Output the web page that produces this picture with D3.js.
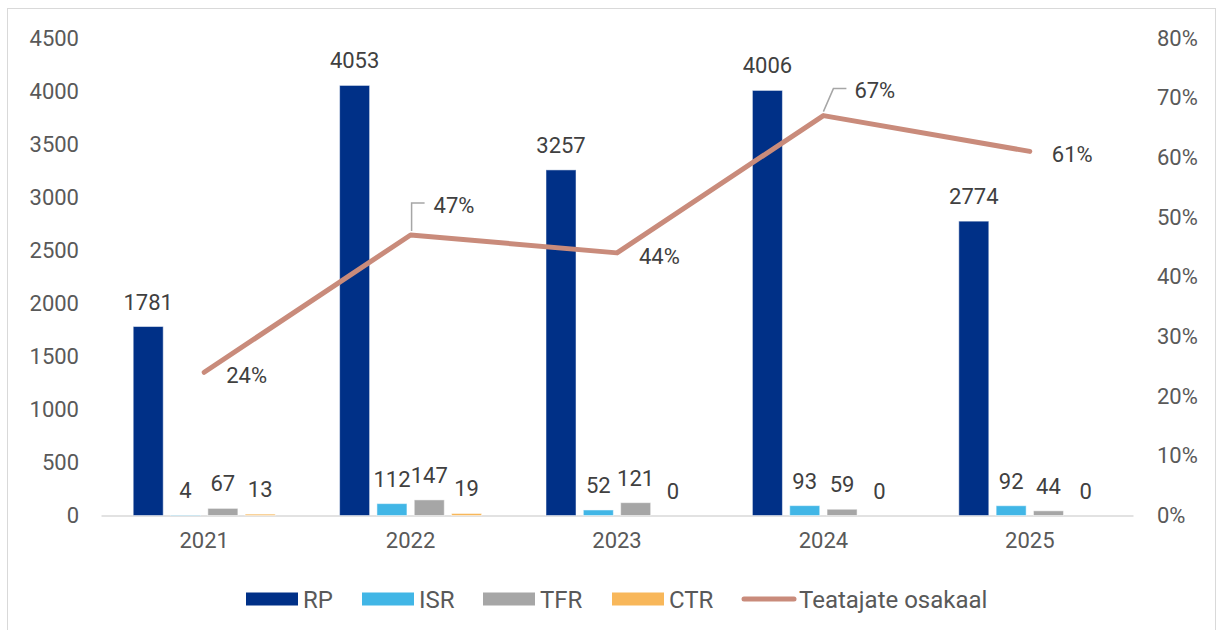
<!DOCTYPE html>
<html>
<head>
<meta charset="utf-8">
<script src="https://cdn.jsdelivr.net/npm/d3@7"></script>
<style>
    body { margin: 0; background: #fff; }
    svg { display: block; font-family: Roboto, "Noto Sans", sans-serif; }
</style>
</head>
<body>
<div id="chart"></div>
<script>
// data
const years = ['2021', '2022', '2023', '2024', '2025'];
const seriesNames = ['RP', 'ISR', 'TFR', 'CTR'];
const rp = [1781, 4053, 3257, 4006, 2774];
const isr = [4, 112, 52, 93, 92];
const tfr = [67, 147, 121, 59, 44];
const ctr = [13, 19, 0, 0, 0];
const share = [0.24, 0.47, 0.44, 0.67, 0.61];
const lineName = 'Teatajate osakaal';
const leftTicks = [0, 500, 1000, 1500, 2000, 2500, 3000, 3500, 4000, 4500];
const rightTicks = [0, 0.1, 0.2, 0.3, 0.4, 0.5, 0.6, 0.7, 0.8];

const colors = { RP: '#003087', ISR: '#41b6e6', TFR: '#a6a6a6', CTR: '#f8b75a' };
const lineColor = '#c98b7b';
const values = { RP: rp, ISR: isr, TFR: tfr, CTR: ctr };

const W = 1217, H = 630;
const svg = d3.select('#chart').append('svg').attr('width', W).attr('height', H);

// outer frame
svg.append('rect')
    .attr('x', 7.5).attr('y', 8.5)
    .attr('width', 1208).attr('height', 640)
    .attr('fill', 'none').attr('stroke', '#d9d9d9').attr('stroke-width', 1);

const x0 = d3.scaleBand().domain(years).range([101, 1133]).padding(0);
const x1 = d3.scaleBand().domain(seriesNames)
    .range([-71, 71]).paddingInner(0.196).paddingOuter(0);
const yL = d3.scaleLinear().domain([0, 4500]).range([515.5, 38]);
const yR = d3.scaleLinear().domain([0, 0.8]).range([515.5, 38]);

// left axis labels
svg.append('g')
    .attr('transform', 'translate(101,0)')
    .call(d3.axisLeft(yL).tickValues(leftTicks).tickSize(0).tickPadding(22)
        .tickFormat(d3.format('d')))
    .call(g => g.select('.domain').remove())
    .selectAll('text')
    .attr('fill', '#595959').style('font-size', '22px').style('font-family', 'Roboto');

// right axis labels
svg.append('g')
    .attr('transform', 'translate(1133,0)')
    .call(d3.axisRight(yR).tickValues(rightTicks).tickSize(0).tickPadding(24)
        .tickFormat(d3.format('.0%')))
    .call(g => g.select('.domain').remove())
    .selectAll('text')
    .attr('fill', '#595959').style('font-size', '22px').style('font-family', 'Roboto');

// bottom axis
svg.append('g')
    .attr('transform', `translate(0,${yL(0)})`)
    .call(d3.axisBottom(x0).tickSize(0).tickPadding(17))
    .call(g => g.select('.domain').attr('stroke', '#d9d9d9').attr('stroke-width', 1.5))
    .selectAll('text')
    .attr('fill', '#595959').style('font-size', '22px').style('font-family', 'Roboto');

// bars
const groups = svg.append('g').selectAll('g')
    .data(years)
    .join('g')
    .attr('transform', d => `translate(${x0(d) + x0.bandwidth() / 2},0)`);

groups.selectAll('rect')
    .data((d, i) => seriesNames.map(s => ({ s, v: values[s][i] })))
    .join('rect')
    .attr('x', d => x1(d.s))
    .attr('width', x1.bandwidth())
    .attr('y', d => yL(d.v))
    .attr('height', d => yL(0) - yL(d.v))
    .attr('fill', d => colors[d.s])
    .attr('stroke', d => d.v > 0 ? '#ffffff' : 'none')
    .attr('stroke-opacity', 0.5)
    .attr('stroke-width', 1);

groups.selectAll('text')
    .data((d, i) => seriesNames.map(s => ({ s, v: values[s][i] })))
    .join('text')
    .attr('x', d => x1(d.s) + x1.bandwidth() / 2)
    .attr('y', d => yL(d.v) - 17)
    .attr('text-anchor', 'middle')
    .attr('fill', '#404040')
    .style('font-size', '22px')
    .text(d => d.v);

// line
const cx = d => x0(d) + x0.bandwidth() / 2;
const pts = years.map((y, i) => ({ year: y, v: share[i] }));

svg.append('path')
    .datum(pts)
    .attr('fill', 'none')
    .attr('stroke', lineColor)
    .attr('stroke-width', 5)
    .attr('stroke-linecap', 'round')
    .attr('stroke-linejoin', 'round')
    .attr('d', d3.line().x(d => cx(d.year)).y(d => yR(d.v)));

// line labels; two of them are pulled up with leader lines
const labelOffsets = {
    '2022': { dx: 23, dy: -30, leader: [[1, -4], [1, -32], [14, -32]] },
    '2024': { dx: 31, dy: -25, leader: [[0, -4], [10, -27], [23, -27]] }
};

pts.forEach(p => {
    const px = cx(p.year), py = yR(p.v);
    const off = labelOffsets[p.year] || { dx: 22, dy: 3 };
    if (off.leader) {
        svg.append('polyline')
            .attr('points', off.leader.map(([a, b]) => `${px + a},${py + b}`).join(' '))
            .attr('fill', 'none')
            .attr('stroke', '#a6a6a6')
            .attr('stroke-width', 1.5);
    }
    svg.append('text')
        .attr('x', px + off.dx)
        .attr('y', py + off.dy)
        .attr('dy', '0.35em')
        .attr('fill', '#404040')
        .style('font-size', '22px')
        .text(d3.format('.0%')(p.v));
});

// legend
const legendItems = seriesNames.map(s => ({ name: s, type: 'bar', color: colors[s] }))
    .concat([{ name: lineName, type: 'line', color: lineColor }]);
const legendX = [246, 362, 483, 612, 742];
const legendY = 599;

const leg = svg.append('g').selectAll('g')
    .data(legendItems)
    .join('g')
    .attr('transform', (d, i) => `translate(${legendX[i]},${legendY})`);

leg.filter(d => d.type === 'bar').append('rect')
    .attr('x', 0).attr('y', -6.5)
    .attr('width', 52).attr('height', 13)
    .attr('fill', d => d.color);

leg.filter(d => d.type === 'line').append('line')
    .attr('x1', 2).attr('x2', 52)
    .attr('y1', 0).attr('y2', 0)
    .attr('stroke', d => d.color)
    .attr('stroke-width', 5)
    .attr('stroke-linecap', 'round');

leg.append('text')
    .attr('x', 57)
    .attr('y', 1)
    .attr('dy', '0.35em')
    .attr('fill', '#595959')
    .style('font-size', '24px')
    .text(d => d.name);
</script>
</body>
</html>
